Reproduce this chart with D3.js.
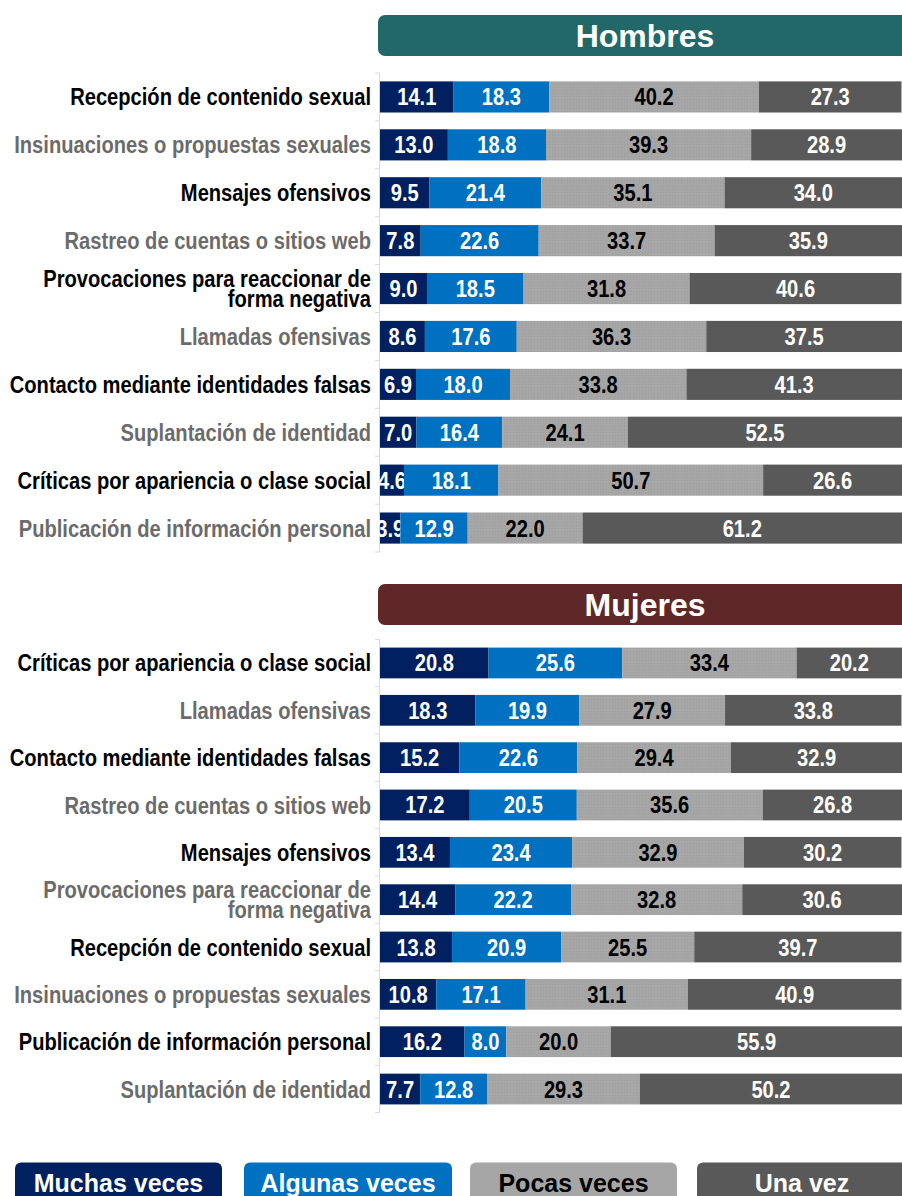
<!DOCTYPE html>
<html>
<head>
<meta charset="utf-8">
<script src="https://cdn.jsdelivr.net/npm/d3@7"></script>
<style>
  body { margin: 0; background: #fff; }
  svg { display: block; }
</style>
</head>
<body>
<div id="chart"></div>
<script>
// categories and values
const seriesNames = ['Muchas veces', 'Algunas veces', 'Pocas veces', 'Una vez'];

const categoriasHombres = [
  'Recepción de contenido sexual',
  'Insinuaciones o propuestas sexuales',
  'Mensajes ofensivos',
  'Rastreo de cuentas o sitios web',
  'Provocaciones para reaccionar de forma negativa',
  'Llamadas ofensivas',
  'Contacto mediante identidades falsas',
  'Suplantación de identidad',
  'Críticas por apariencia o clase social',
  'Publicación de información personal'
];
const muchasHombres  = [14.1, 13.0, 9.5, 7.8, 9.0, 8.6, 6.9, 7.0, 4.6, 3.9];
const algunasHombres = [18.3, 18.8, 21.4, 22.6, 18.5, 17.6, 18.0, 16.4, 18.1, 12.9];
const pocasHombres   = [40.2, 39.3, 35.1, 33.7, 31.8, 36.3, 33.8, 24.1, 50.7, 22.0];
const unaHombres     = [27.3, 28.9, 34.0, 35.9, 40.6, 37.5, 41.3, 52.5, 26.6, 61.2];

const categoriasMujeres = [
  'Críticas por apariencia o clase social',
  'Llamadas ofensivas',
  'Contacto mediante identidades falsas',
  'Rastreo de cuentas o sitios web',
  'Mensajes ofensivos',
  'Provocaciones para reaccionar de forma negativa',
  'Recepción de contenido sexual',
  'Insinuaciones o propuestas sexuales',
  'Publicación de información personal',
  'Suplantación de identidad'
];
const muchasMujeres  = [20.8, 18.3, 15.2, 17.2, 13.4, 14.4, 13.8, 10.8, 16.2, 7.7];
const algunasMujeres = [25.6, 19.9, 22.6, 20.5, 23.4, 22.2, 20.9, 17.1, 8.0, 12.8];
const pocasMujeres   = [33.4, 27.9, 29.4, 35.6, 32.9, 32.8, 25.5, 31.1, 20.0, 29.3];
const unaMujeres     = [20.2, 33.8, 32.9, 26.8, 30.2, 30.6, 39.7, 40.9, 55.9, 50.2];

const colors = ['#002060', '#0070C0', '#A6A6A6', '#595959'];
const textColors = ['#fff', '#fff', '#000', '#fff'];
const font = 'Arial, "Liberation Sans", sans-serif';
const squeeze = 0.875;   // the original type is horizontally condensed

const width = 902, height = 1196;
const svg = d3.select('#chart').append('svg')
    .attr('width', width)
    .attr('height', height);

// light dotted texture for the grey segment
const pat = svg.append('defs').append('pattern')
    .attr('id', 'dots')
    .attr('width', 3).attr('height', 3)
    .attr('patternUnits', 'userSpaceOnUse');
pat.append('rect').attr('width', 3).attr('height', 3).attr('fill', '#A6A6A6');
pat.append('rect').attr('width', 1).attr('height', 1).attr('fill', '#9E9E9E');

const x = d3.scaleLinear().domain([0, 100]).range([380, 902]);

function panel(title, headerColor, headerY, cats, series, y0, y1) {
    // header
    svg.append('rect')
        .attr('x', 378).attr('y', headerY)
        .attr('width', 534).attr('height', 41)
        .attr('rx', 7)
        .attr('fill', headerColor);
    svg.append('text')
        .attr('x', 645).attr('y', headerY + 32)
        .attr('text-anchor', 'middle')
        .attr('fill', '#fff')
        .style('font-family', font)
        .style('font-weight', 'bold')
        .style('font-size', '32px')
        .text(title);

    const y = d3.scaleBand()
        .domain(cats)
        .range([y0, y1])
        .paddingInner(0.35)
        .paddingOuter(0.175);

    // thin axis line with ticks between rows
    const g = svg.append('g');
    g.append('line')
        .attr('x1', 379.5).attr('x2', 379.5)
        .attr('y1', y0).attr('y2', y1)
        .attr('stroke', '#d9d9d9');
    g.selectAll('.tk')
        .data(d3.range(cats.length + 1))
        .enter().append('line')
        .attr('x1', 375).attr('x2', 379.5)
        .attr('y1', i => y0 + i * y.step())
        .attr('y2', i => y0 + i * y.step())
        .attr('stroke', '#d9d9d9');

    const rows = cats.map((c, i) => {
        const row = { cat: c };
        seriesNames.forEach((s, k) => { row[s] = series[k][i]; });
        return row;
    });
    const stack = d3.stack().keys(seriesNames)(rows);

    stack.forEach((layer, k) => {
        const lg = svg.append('g');
        lg.selectAll('rect')
            .data(layer)
            .enter().append('rect')
            .attr('x', d => x(d[0]))
            .attr('y', d => y(d.data.cat))
            .attr('width', d => x(d[1]) - x(d[0]))
            .attr('height', y.bandwidth())
            .attr('fill', k === 2 ? 'url(#dots)' : colors[k]);
        lg.selectAll('text')
            .data(layer)
            .enter().append('text')
            .attr('transform', d => 'translate(' + (x(d[0]) + x(d[1])) / 2 + ',' +
                  (y(d.data.cat) + y.bandwidth() / 2 + 8.5) + ') scale(' + squeeze + ',1)')
            .attr('text-anchor', 'middle')
            .attr('fill', textColors[k])
            .style('font-family', font)
            .style('font-weight', 'bold')
            .style('font-size', '23px')
            .text(d => d.data[seriesNames[k]].toFixed(1));
    });

    // category labels, alternating black / grey
    const labels = svg.append('g').selectAll('text')
        .data(cats)
        .enter().append('text')
        .attr('transform', d => 'translate(371,' + (y(d) + y.bandwidth() / 2) + ') scale(' + squeeze + ',1)')
        .attr('text-anchor', 'end')
        .attr('fill', (d, i) => i % 2 === 0 ? '#000' : '#6b6b6b')
        .style('font-family', font)
        .style('font-weight', 'bold')
        .style('font-size', '23px');
    labels.each(function(d) {
        const t = d3.select(this);
        const split = d.indexOf(' de forma');
        if (split > 0) {
            t.append('tspan').attr('x', 0).attr('y', -1.5)
                .text(d.slice(0, split + 3));
            t.append('tspan').attr('x', 0).attr('y', 18)
                .text(d.slice(split + 4));
        } else {
            t.attr('y', 8.5).text(d);
        }
    });
}

panel('Hombres', '#236868', 15, categoriasHombres,
      [muchasHombres, algunasHombres, pocasHombres, unaHombres], 73, 552);
panel('Mujeres', '#5E2828', 584, categoriasMujeres,
      [muchasMujeres, algunasMujeres, pocasMujeres, unaMujeres], 639.3, 1112.7);

// legend along the bottom
const legendX = [15, 244, 470, 697];
const legendW = [207, 208, 207, 210];
const leg = svg.append('g').selectAll('g')
    .data(seriesNames)
    .enter().append('g');
leg.append('rect')
    .attr('x', (d, i) => legendX[i])
    .attr('y', 1162.5)
    .attr('width', (d, i) => legendW[i])
    .attr('height', 50)
    .attr('rx', 6)
    .attr('fill', (d, i) => colors[i]);
leg.append('text')
    .attr('x', (d, i) => legendX[i] + legendW[i] / 2)
    .attr('y', 1192)
    .attr('text-anchor', 'middle')
    .attr('fill', (d, i) => textColors[i])
    .style('font-family', font)
    .style('font-weight', 'bold')
    .style('font-size', '25px')
    .text(d => d);
</script>
</body>
</html>
